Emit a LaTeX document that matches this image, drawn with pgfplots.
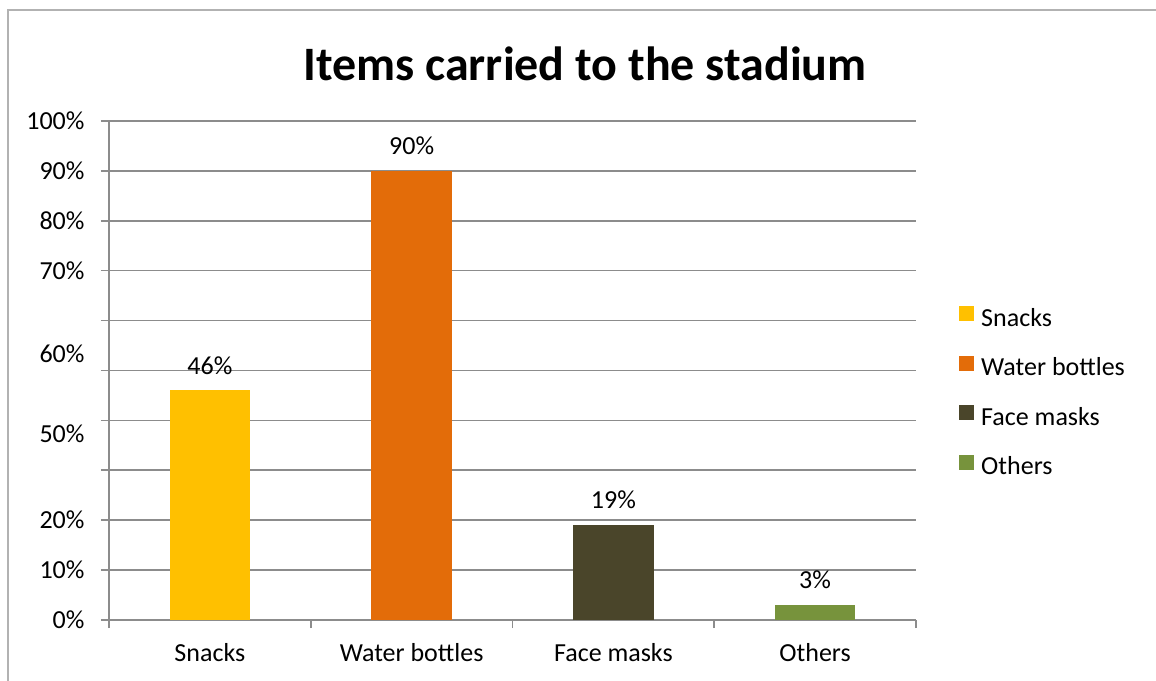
\documentclass[border=0pt]{standalone}
\usepackage{pgfplots}
\pgfplotsset{compat=1.18}
\usepackage{fontspec}
\setmainfont{Carlito}
\definecolor{gridgray}{HTML}{8C8C8C}
\definecolor{cSnack}{HTML}{FFC000}
\definecolor{cWater}{HTML}{E36C09}
\definecolor{cFace}{HTML}{4A452A}
\definecolor{cOther}{HTML}{77933C}
\begin{document}
\begin{tikzpicture}[x=1pt,y=1pt]
\useasboundingbox (0,0) rectangle (1156,680);
\fill[white] (0,0) rectangle (1156,680);
\draw[gray!60, line width=2pt] (8,-5) -- (8,670) -- (1170,670);
\node[font=\fontsize{48}{56}\selectfont\bfseries] at (585,616) {Items carried to the stadium};
\begin{axis}[
  at={(109pt,60pt)}, anchor=south west,
  scale only axis, width=807pt, height=499pt,
  xmin=-0.5, xmax=3.5, ymin=0, ymax=100,
  axis x line=bottom, axis y line=left,
  axis line style={gridgray, line width=1.6pt, -},
  xtick={0,1,2,3},
  xticklabels={Snacks, Water bottles, Face masks, Others},
  minor xtick={-0.5,0.5,1.5,2.5,3.5},
  ytick={0,10,20,30,40,50,60,70,80,90,100},
  yticklabels={0\%,10\%,20\%,,,,,70\%,80\%,90\%,100\%},
  extra y ticks={37.3,53.3},
  extra y tick labels={50\%,60\%},
  extra y tick style={grid=none, tick style={draw=none}},
  tick align=outside,
  major tick length=8pt, minor tick length=8pt,
  x tick style={gridgray, line width=1.6pt},
  y tick style={gridgray, line width=1.6pt},
  major x tick style={draw=none},
  ymajorgrids,
  major grid style={gridgray, line width=1.6pt},
  ticklabel style={font=\fontsize{26}{30}\selectfont, text=black},
  yticklabel style={xshift=-13pt},
  xticklabel style={yshift=-12pt},
  /pgf/number format/assume math mode=true,
  ybar, bar width=0.4, bar shift=0pt,
  nodes near coords={\pgfmathprintnumber{\pgfplotspointmeta}\%},
  every node near coord/.append style={font=\fontsize{26}{30}\selectfont, text=black, inner sep=0pt, yshift=16pt},
  legend cell align=left,
  legend style={at={(1.0496,0.633)}, anchor=north west, draw=none, fill=none,
    font=\fontsize{26}{30}\selectfont, row sep=23.5pt, column sep=7pt,
    nodes={inner sep=0pt, text height=18pt, text depth=6pt}},
  legend image code/.code={\fill[#1] (0pt,-1pt) rectangle (15pt,14pt);},
  clip=false,
]
\addplot[fill=cSnack, draw=none] coordinates {(0,46)};
\addlegendentry{Snacks}
\addplot[fill=cWater, draw=none] coordinates {(1,90)};
\addlegendentry{Water bottles}
\addplot[fill=cFace, draw=none] coordinates {(2,19)};
\addlegendentry{Face masks}
\addplot[fill=cOther, draw=none] coordinates {(3,3)};
\addlegendentry{Others}
\end{axis}
\end{tikzpicture}
\end{document}
